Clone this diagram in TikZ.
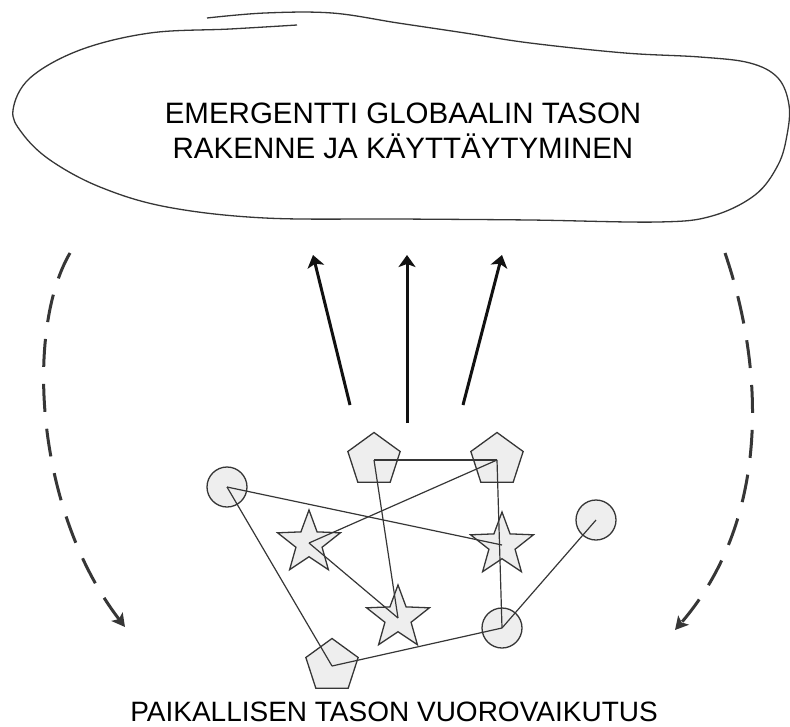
\documentclass[tikz,border=0pt]{standalone}
\usepackage{fontspec}
\setmainfont{Liberation Sans}
\usetikzlibrary{shapes.geometric,arrows.meta}
\definecolor{ink}{HTML}{363636}
\definecolor{shade}{HTML}{EEEEEE}
\definecolor{flow}{HTML}{111111}

\begin{document}
\begin{tikzpicture}[x=1pt,y=-1pt,
  agentshape/.style={draw=ink,line width=1.3pt,fill=shade,inner sep=0pt},
  circ/.style={agentshape,circle,minimum size=40pt},
  pent/.style={agentshape,regular polygon,regular polygon sides=5,minimum size=55pt},
  starnode/.style={agentshape,star,star points=5,star point ratio=2.4,minimum size=66pt},
  link/.style={draw=ink,line width=1.2pt},
  upflow/.style={draw=flow,line width=3pt,-{Stealth[length=12pt,width=17pt,inset=3pt]}},
  feedback/.style={draw=ink,line width=3pt,dash pattern=on 28pt off 17pt,
    -{Stealth[length=13pt,width=14pt,inset=3pt]}},
  caption/.style={anchor=base,inner sep=0pt,text=black},
  upper/.style={caption,font=\fontsize{29.5}{35}\selectfont},
  lower/.style={caption,font=\fontsize{28}{34}\selectfont}]

\useasboundingbox (0,0) rectangle (790,726);

% cloud of the global level
\draw[ink,line width=1.3pt] plot[smooth,tension=0.6] coordinates {
  (207,18) (265,13) (332,13) (398,23) (465,33) (530,43) (625,53) (700,57)
  (750,63) (778,78) (789,105) (787,135) (778,165) (755,195) (712,216)
  (658,222) (530,220) (400,219) (265,218) (167,207) (100,187) (50,160)
  (22,133) (13,110) (30,78) (80,50) (150,33) (230,29) (297,25)};

\node[upper] (title1) at (403,123) {EMERGENTTI GLOBAALIN TASON};
\node[upper] (title2) at (403,158) {RAKENNE JA KÄYTTÄYTYMINEN};

% local agents
\node[circ] (c1) at (227,487) {};
\node[circ] (c2) at (596,520) {};
\node[circ] (c3) at (502,628) {};
\node[pent] (p1) at (374,460) {};
\node[pent] (p2) at (497,460) {};
\node[pent] (p3) at (332,666) {};
\node[starnode] (s1) at (309,543) {};
\node[starnode] (s2) at (502,545) {};
\node[starnode] (s3) at (398,618) {};

% interactions
\draw[link] (c1.center) -- (s2.center);
\draw[link] (c1.center) -- (p3.center);
\draw[link] (p3.center) -- (c3.center);
\draw[link] (c3.center) -- (c2.center);
\draw[link] (p2.center) -- (c3.center);
\draw[link] (p1.center) -- (p2.center);
\draw[link] (p1.center) -- (s3.center);
\draw[link] (p2.center) -- (s1.center);
\draw[link] (s1.center) -- (s3.center);

% upward emergence
\coordinate (u1a) at (350,405);
\coordinate (u1b) at (313,255);
\coordinate (u2a) at (407,423);
\coordinate (u2b) at (407,255);
\coordinate (u3a) at (463,405);
\coordinate (u3b) at (502,255);
\draw[upflow] (u1a) -- (u1b);
\draw[upflow] (u2a) -- (u2b);
\draw[upflow] (u3a) -- (u3b);

% downward feedback
\coordinate (dla) at (70,253);
\coordinate (dlb) at (125,627);
\coordinate (dra) at (725,253);
\coordinate (drb) at (675,630);
\draw[feedback] (dla) .. controls (25,330) and (35,510) .. (dlb);
\draw[feedback] (dra) .. controls (765,370) and (770,520) .. (drb);

\node[lower] (bottom) at (394,721) {PAIKALLISEN TASON VUOROVAIKUTUS};
\end{tikzpicture}
\end{document}
